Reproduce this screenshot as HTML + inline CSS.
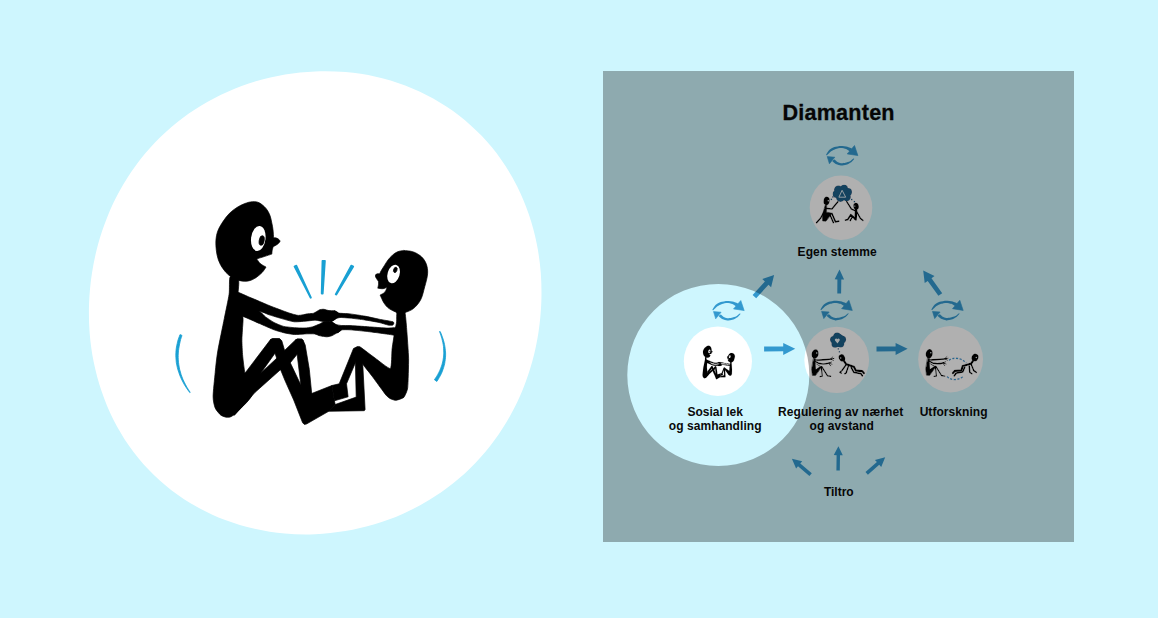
<!DOCTYPE html>
<html lang="no"><head><meta charset="utf-8"><title>Diamanten</title>
<style>
html,body{margin:0;padding:0;background:#cef6fe;overflow:hidden}
svg{display:block}
</style></head><body>
<svg width="1158" height="618" viewBox="0 0 1158 618">
<rect width="1158" height="618" fill="#cef6fe"/>
<defs><g id="fig" fill="#000" stroke="#000" stroke-width="0.7" stroke-linejoin="round"><path d="M273.6 237.8 C274.2 237.8 276 237.7 277.1 238.3 C278.2 238.8 279.9 240.1 280 241.1 C280.1 242.1 278.6 243.2 277.5 244.2 C276.3 245.1 273.9 246.3 273.2 246.7 C273 247.3 272.5 249 272.2 250.2 C272 251.4 271.9 253.4 271.8 254.1 C270.6 254.5 266.6 255.8 264.1 256.6 C261.6 257.4 257.9 258.5 256.7 258.9 C257.3 259.7 259 262.4 260.6 263.8 C262.1 265.1 265.1 266.5 266 267.1 C265.4 268 263.8 270.8 262.1 272.5 C260.5 274.2 258.2 276.1 256.3 277.4 C254.4 278.7 252.8 279.6 250.9 280.3 C248.9 280.9 247 281.4 244.7 281.3 C242.3 281.2 239.5 280.7 236.9 279.7 C234.3 278.7 231.5 277.3 229.1 275.4 C226.8 273.6 224.7 271.2 222.9 268.6 C221.1 266.1 219.5 263 218.4 259.9 C217.3 256.8 216.7 253.4 216.3 250.2 C215.9 247 215.7 243.7 215.9 240.5 C216.2 237.2 216.6 234 217.9 230.8 C219.1 227.5 221.4 224 223.3 221.1 C225.2 218.2 227.2 215.6 229.5 213.3 C231.8 211 234.4 209.1 236.9 207.5 C239.4 205.9 242.1 204.6 244.7 203.6 C247.2 202.6 250 201.8 252.4 201.7 C254.9 201.5 257 201.7 259.2 202.8 C261.5 203.9 264.2 206.4 266 208.4 C267.8 210.5 268.9 212.8 269.9 215.2 C270.9 217.7 271.3 220.6 271.8 223 C272.4 225.4 272.7 227.3 273 229.8 C273.3 232.3 273.5 236.4 273.6 237.8Z"/>
<ellipse cx="258.3" cy="238.5" rx="7.2" ry="12.6" fill="#fff" stroke="none" transform="rotate(7 258.3 238.5)"/>
<ellipse cx="261.7" cy="240.5" rx="2.5" ry="4.9" transform="rotate(10 261.7 240.5)"/>
<path d="M230.1 277 C229 278.7 229.8 289.5 229.1 294.3 C228.4 299.1 225.6 311.9 224.3 318.5 C223 325.1 218.9 344.6 217.8 350.9 C216.7 357.2 215.7 367.1 215.2 372.4 C214.7 377.7 213.1 392.4 213.1 396.6 C213.1 400.8 214.3 405.8 215.2 408 C216.1 410.2 219.5 414.1 220.9 415.2 C222.3 416.3 225.9 417.3 227.4 417.3 C228.9 417.3 230.9 417.4 233.8 414.8 C236.7 412.2 250.7 399.8 252 395 C253.3 390.2 246.3 378.5 245.2 374 C244.1 369.5 243.1 360.2 242.7 356.2 C242.3 352.2 241.9 343.1 241.9 340 C241.9 336.9 242.3 332.7 242.4 330 C242.5 327.3 243.4 319.8 242.9 316.9 C242.4 314 239.1 307.6 238.5 305 C237.9 302.4 238 297.2 238 294.3 C238 291.4 239.4 282 238.5 280 C237.6 278 231.2 275.3 230.1 277Z"/>
<path d="M233 291.5 C234.7 290 246.1 295.9 249.7 297.3 C253.3 298.7 265.2 303.9 269.1 305.5 C273 307.1 285.6 311.8 288.5 312.8 C291.4 313.8 296.4 315.3 298.3 315.4 C300.2 315.5 306.5 314 308 313.8 C309.5 313.6 312.5 313.6 313.7 313.2 C314.9 312.8 318.6 310.2 319.6 309.8 C320.6 309.4 323 309.2 323.9 309.3 C324.8 309.4 328 310.5 329 310.6 C330 310.8 333.2 310.6 334.1 310.8 C335.1 311.1 338.4 312.3 338.5 313.1 C338.6 313.9 336.4 318.1 335.6 318.9 C334.8 319.7 332.1 321.2 330.9 321.5 C329.7 321.8 324.7 321.6 323.2 321.5 C321.7 321.4 317.4 320.3 315.9 320.2 C314.4 320.1 310.1 320.7 308 320.9 C305.9 321.1 297 322 294.4 321.8 C291.8 321.6 284.2 319.3 281.7 318.6 C279.2 317.9 271.3 315.5 269.1 314.8 C266.9 314.1 262 311.3 259.4 311.4 C256.8 311.5 245.6 315.9 243 316 C240.4 316.1 234 314.4 233 312 C232 309.6 231.3 293 233 291.5Z"/>
<path d="M234 303 C236.5 302.9 256.3 310.2 259.4 311.6 C262.5 313 263.7 315.6 265.2 316.7 C266.7 317.8 272.1 321.5 274 322.5 C275.9 323.5 281.7 325.9 283.7 326.4 C285.7 326.9 292.3 327.5 294.4 327.7 C296.5 327.9 303.2 328.1 305 328 C306.8 327.9 310.8 327.3 312.3 326.9 C313.8 326.5 318.4 324.5 319.6 324 C320.8 323.5 323.2 321.7 324.3 321.5 C325.4 321.3 329.8 321.4 330.9 321.7 C332 322 334.6 323.6 335.6 324.4 C336.7 325.2 341.3 329.1 341.4 329.9 C341.5 330.7 337.9 332.2 337 332.8 C336.1 333.4 332.9 335.3 331.9 335.7 C330.9 336.1 328 336.8 326.8 336.8 C325.6 336.8 320.8 336 319.6 335.7 C318.4 335.4 316 334.1 314.5 333.9 C313 333.7 307 333.8 305 333.9 C303 334 296.5 334.6 294.4 334.5 C292.3 334.4 285.7 333.2 283.7 332.7 C281.7 332.2 276.4 330.7 274 329.8 C271.6 328.9 262.4 324.8 259.4 323.5 C256.4 322.2 246.4 317.8 243.9 316.7 C241.4 315.6 235 314.4 234 313 C233 311.6 231.5 303.1 234 303Z"/>
<path d="M244 374.5 L270.5 339.6 L272.5 338.7 L279.5 338.8 L281 340.2 L275 353.2 L260.9 373 L252 392Z"/>
<path d="M270.5 339.6 L272.5 338.7 L279.5 338.8 L281.8 340.8 L284.6 350.4 L290.3 362.8 L301.6 386.6 L311.7 393.5 L331.9 385.5 L334.4 400.8 L335.2 404.5 L328.7 411.3 L306.5 424 L304.3 424.4 L302.6 422.7 L293.7 400 L285 380.6 L280.1 368.5 L276.7 358.3 L275 353.2Z"/>
<path d="M260.9 373 L276.7 358.3 L284.6 350.4 L295.5 339.9 L297.5 339 L302 339.2 L303.3 340.8 L297.1 354.3 L290.3 362.8 L280.1 370 L254.9 392.5 L234.5 415.2 L222 412 L225 395Z"/>
<path d="M295.5 339.9 L297.5 339 L302 339.2 L303.3 340.8 L305.2 345 L309.3 369.3 L311.7 393.5 L314 405 L303 400 L300.8 384.4 L297.1 354.3Z"/>
<path d="M403.7 250.4 C405.3 250.7 410.4 250.8 413.4 251.9 C416.4 253 419.4 254.8 421.5 256.8 C423.6 258.8 425.3 261.3 426.3 264.1 C427.3 266.9 427.9 270 427.6 273.8 C427.3 277.6 425.9 282.5 424.7 286.8 C423.5 291.1 422.6 296.1 420.7 299.7 C418.8 303.3 416.1 306.4 413.4 308.6 C410.7 310.8 406 312.1 404.5 312.8 C403.3 312.8 398.4 312.8 397.2 312.8 C395.9 312.1 391.3 310.2 389.1 308.6 C386.9 307 385.5 305.3 384 303 C382.5 300.7 380.8 296.3 380.1 295 C380.7 294.7 382.6 293.9 383.5 293.2 C384.4 292.5 385 292 385.6 291 C386.2 290 386.9 287.9 387.1 287.3 C386.4 287.5 384.4 288.6 382.9 288.7 C381.3 288.8 378.6 288.3 377.8 288.2 C377.9 287.6 378.4 285.6 378.5 284.4 C378.6 283.2 378.4 281.7 378.4 281.2 C378.1 280.8 377 279.5 376.5 278.6 C376 277.7 375.4 276.8 375.4 276 C375.4 275.2 375.8 274.4 376.5 274 C377.2 273.6 379.2 273.8 379.7 273.7 C380 273.1 380.8 271.3 381.6 270 C382.4 268.7 383.2 267.4 384.3 265.7 C385.4 264 386.6 261.8 388 260 C389.4 258.2 390.8 256.6 392.4 255.2 C394 253.8 395.6 252.6 397.5 251.8 C399.4 251 402.7 250.6 403.7 250.4Z"/>
<ellipse cx="393.6" cy="274" rx="6.0" ry="9.5" fill="#fff" stroke="none" transform="rotate(17 393.6 274)"/>
<ellipse cx="395.3" cy="269.9" rx="1.7" ry="2.8" transform="rotate(20 395.3 269.9)"/>
<path d="M397.2 311 C396.5 311.9 396.8 320.4 396.6 322 C396.4 323.6 395.4 327.8 395 330 C394.6 332.2 392.5 345.6 392.1 348.8 C391.7 352 391.8 367.7 390.4 368.5 C389 369.3 377.4 359.7 375 358 C372.6 356.3 362.5 348.6 361.1 347.6 C359.8 346.6 359.2 346.4 358.8 346.4 C358.4 346.4 356.9 347.3 356.6 347.6 C356.3 347.9 355.1 348.6 355.6 350 C356.1 351.4 361.6 362.2 363 364.4 C364.4 366.6 370.1 373.4 372 376 C373.9 378.6 384.7 393.5 386.3 395.4 C387.9 397.3 390.2 398.6 391 399 C391.8 399.4 394.9 400.4 396 400.3 C397.1 400.2 402.8 398.4 403.8 397.4 C404.8 396.3 407.3 390.9 407.7 387.7 C408.1 384.5 408.7 363.4 408.6 358.5 C408.5 353.6 407 333.4 406.7 329.4 C406.4 325.4 405.4 312.5 404.6 311 C403.8 309.5 397.9 310.1 397.2 311Z"/>
<path d="M330.9 321.5 C330.8 320.7 333.3 311.6 334.1 310.8 C334.9 310 336.9 312.8 338.5 313.1 C340.1 313.4 347.4 313.6 350 313.9 C352.6 314.2 361.7 315.6 364.6 316.1 C367.5 316.6 376.3 318.6 379.1 319.2 C381.9 319.8 390.7 321.2 392.2 321.6 C393.7 322 393.8 322.7 393.9 323 C394 323.3 393.3 324.7 393 324.9 C392.7 325.1 391.5 325.2 391 325.2 C390.5 325.2 389.1 325.3 387.9 325 C386.7 324.7 381.4 323 379.1 322.5 C376.8 322 367.5 320.3 364.6 319.9 C361.7 319.5 352.5 318.3 350 318.1 C347.5 317.9 341.4 317.4 340 317.5 C338.6 317.6 336.5 318.5 335.6 318.9 C334.7 319.3 331 322.3 330.9 321.5Z"/>
<path d="M330.9 321.7 C330.8 320.9 334.6 324 335.6 324.4 C336.7 324.8 340 325.4 341.4 325.5 C342.8 325.6 347.7 325.5 350 325.6 C352.3 325.7 361.7 326.3 364.6 326.5 C367.5 326.7 376.8 327.4 379.1 327.6 C381.4 327.8 386.1 328.1 387.9 328.1 C389.7 328.1 396.1 327.2 397 328 C397.9 328.8 397.6 334.9 397.2 335.6 C396.8 336.3 394.8 335.3 393 335 C391.2 334.7 381.9 333.4 379.1 333 C376.3 332.6 367.5 331.5 364.6 331.2 C361.7 330.9 352.3 329.9 350 329.8 C347.7 329.7 342.7 329.6 341.4 329.9 C340.1 330.2 338.1 333.6 337 332.8 C335.9 332 331 322.5 330.9 321.7Z"/>
<path d="M353.5 348.5 L357.5 346.5 L358 356 L355.4 362.8 L346.5 383.8 L348.1 396.8 L334.4 400.8 L331.9 385.5 L339.2 383.8Z"/>
<path d="M355.6 350 L362.2 352 L362.7 362.8 L365.1 409.5 L364.3 410.7 L328.7 411.3 L335.2 404.5 L356.2 397.1 L355.4 362.8Z"/></g><g id="blue" fill="#19a0d3"><path d="M294.4 266.5 L310.6 297.9 L311 297.7 L296.4 265.5Z" stroke-width="1.6" stroke-linejoin="round" stroke="#19a0d3"/>
<path d="M322.4 260.7 L321.6 293.6 L322.8 293.6 L325 260.9Z" stroke-width="1.6" stroke-linejoin="round" stroke="#19a0d3"/>
<path d="M351.3 265.5 L335.6 294.3 L336.4 294.7 L353.3 266.5Z" stroke-width="1.6" stroke-linejoin="round" stroke="#19a0d3"/>
<path d="M180 334.6 L179.2 336.8 L178.4 339 L177.7 341.2 L177.2 343.5 L176.7 345.8 L176.3 348.1 L176 350.5 L175.9 352.8 L175.8 355.2 L175.9 357.7 L176.1 360.1 L176.3 362.6 L176.8 365 L177.3 367.5 L178 370 L178.8 372.5 L179.7 375 L180.7 377.5 L181.9 380 L183.2 382.6 L184.6 385.1 L186.2 387.6 L187.9 390.1 L189.8 392.6 L190.2 392.4 L188.5 389.8 L186.9 387.2 L185.5 384.6 L184.2 382.1 L183 379.5 L182 377 L181.1 374.5 L180.4 372 L179.7 369.6 L179.2 367.1 L178.8 364.7 L178.5 362.3 L178.3 359.9 L178.2 357.6 L178.2 355.3 L178.3 353 L178.5 350.7 L178.8 348.5 L179.2 346.2 L179.6 344 L180.1 341.8 L180.6 339.6 L181.3 337.5 L182 335.4Z" stroke="#19a0d3" stroke-width="0.8" stroke-linejoin="round"/>
<path d="M439.5 331.6 L440.4 333.8 L441.1 336 L441.8 338.2 L442.3 340.3 L442.8 342.5 L443.2 344.6 L443.5 346.7 L443.6 348.8 L443.7 350.9 L443.8 353 L443.7 355 L443.5 357.1 L443.2 359.1 L442.9 361 L442.4 363 L441.9 364.9 L441.2 366.9 L440.5 368.8 L439.7 370.7 L438.8 372.5 L437.8 374.4 L436.8 376.2 L435.6 378 L434.4 379.7 L436.8 381.5 L438.1 379.6 L439.2 377.6 L440.3 375.7 L441.3 373.7 L442.2 371.7 L442.9 369.7 L443.6 367.6 L444.2 365.6 L444.7 363.5 L445 361.4 L445.3 359.3 L445.5 357.2 L445.6 355.1 L445.6 353 L445.4 350.8 L445.2 348.7 L444.9 346.5 L444.5 344.4 L444 342.2 L443.4 340.1 L442.7 337.9 L441.9 335.7 L441.1 333.5 L440.1 331.4Z" stroke="#19a0d3" stroke-width="0.8" stroke-linejoin="round"/></g></defs>
<path d="M541.3 302.8 C541.7 293 541.5 283 540.8 273.1 C540 263.2 538.7 253.3 536.7 243.5 C534.7 233.7 532.1 223.8 528.8 214.3 C525.6 204.8 521.7 195.3 517.1 186.2 C512.5 177.2 507.3 168.3 501.4 159.9 C495.5 151.6 489 143.5 481.9 136.1 C474.8 128.7 467.1 121.7 459 115.4 C450.8 109.2 442.1 103.5 433.2 98.5 C424.2 93.5 414.8 89.2 405.2 85.5 C395.6 81.9 385.7 79 375.8 76.8 C365.8 74.5 355.7 73 345.6 72.1 C335.5 71.2 325.3 71 315.2 71.4 C305.1 71.8 295 72.9 285.1 74.5 C275.3 76.2 265.4 78.5 255.9 81.3 C246.3 84.2 236.8 87.7 227.8 91.7 C218.7 95.7 209.8 100.3 201.3 105.5 C192.8 110.6 184.6 116.4 176.9 122.5 C169.2 128.7 161.8 135.5 155 142.6 C148.2 149.7 141.8 157.3 136 165.3 C130.1 173.2 124.8 181.6 120.1 190.1 C115.3 198.7 111.1 207.6 107.4 216.7 C103.7 225.8 100.6 235.2 98 244.6 C95.4 254.1 93.4 263.7 91.9 273.4 C90.4 283.1 89.5 293 89.1 302.8 C88.7 312.6 88.9 322.6 89.6 332.5 C90.4 342.4 91.7 352.3 93.7 362.1 C95.7 371.9 98.3 381.8 101.6 391.3 C104.8 400.8 108.7 410.3 113.3 419.4 C117.9 428.4 123.1 437.3 129 445.7 C134.9 454 141.4 462.1 148.5 469.5 C155.6 476.9 163.3 483.9 171.4 490.2 C179.6 496.4 188.3 502.1 197.2 507.1 C206.2 512.1 215.6 516.4 225.2 520.1 C234.8 523.7 244.7 526.6 254.6 528.8 C264.6 531.1 274.7 532.6 284.8 533.5 C294.9 534.4 305.1 534.6 315.2 534.2 C325.3 533.8 335.4 532.7 345.3 531.1 C355.1 529.4 365 527.1 374.5 524.3 C384.1 521.4 393.6 517.9 402.6 513.9 C411.7 509.9 420.6 505.3 429.1 500.1 C437.6 495 445.8 489.2 453.5 483.1 C461.2 476.9 468.6 470.1 475.4 463 C482.2 455.9 488.6 448.3 494.4 440.3 C500.3 432.4 505.6 424 510.3 415.5 C515.1 406.9 519.3 398 523 388.9 C526.7 379.8 529.8 370.4 532.4 361 C535 351.5 537 341.9 538.5 332.2 C540 322.5 540.9 312.6 541.3 302.8Z" fill="#fff"/>
<use href="#fig"/><use href="#blue"/>
<ellipse cx="841" cy="207.7" rx="31.3" ry="32.2" fill="#fff"/>
<ellipse cx="717.9" cy="361.2" rx="34.1" ry="34.8" fill="#fff"/>
<ellipse cx="836.7" cy="359.8" rx="32.4" ry="33.1" fill="#fff"/>
<ellipse cx="950.6" cy="359.2" rx="32.4" ry="33.2" fill="#fff"/>
<g transform="translate(0 0)" fill="#3399cf"><path d="M826.1 154.7 C826.3 154.2 828.4 150.7 829.2 149.9 C830 149.1 833.2 147.4 834.4 147 C835.6 146.6 839.6 145.9 840.9 145.9 C842.2 145.9 846.3 146.4 847.4 146.7 C848.5 147 851.9 148.4 852.2 148.8 C852.5 149.2 850.6 151.2 850 151.2 C849.4 151.2 847 149.3 846.1 149 C845.2 148.7 841.9 148.1 840.9 148.1 C839.9 148.1 836.7 148.7 835.7 149 C834.7 149.3 832.1 150.7 831.2 151.3 C830.4 151.9 827.7 154.7 827.2 155 C826.7 155.3 825.9 155.2 826.1 154.7Z"/><path d="M854.5 145.5 L857.9 155.6 L847.2 153.9Z" stroke="#3399cf" stroke-width="0.6" stroke-linejoin="round"/><path d="M854.2 159 C854 159.4 852 161.6 851.2 162.2 C850.4 162.8 847.1 164.5 846.1 164.8 C845.1 165.1 841.9 165.7 840.9 165.6 C839.9 165.5 837.2 164.7 836.4 164.3 C835.5 163.9 832.6 161.8 832.4 161.3 C832.2 160.8 834.1 159.4 834.6 159.5 C835.1 159.6 836.8 161.6 837.4 162 C838 162.4 840.1 163.2 840.9 163.3 C841.7 163.4 844.5 163 845.4 162.8 C846.3 162.6 849.2 161.7 850 161.3 C850.8 160.9 853 158.8 853.4 158.6 C853.8 158.4 854.4 158.6 854.2 159Z"/><path d="M827.2 156.6 L834.8 157.2 L829.4 163.8Z" stroke="#3399cf" stroke-width="0.6" stroke-linejoin="round"/></g>
<g transform="translate(-113.7 155)" fill="#3399cf"><path d="M826.1 154.7 C826.3 154.2 828.4 150.7 829.2 149.9 C830 149.1 833.2 147.4 834.4 147 C835.6 146.6 839.6 145.9 840.9 145.9 C842.2 145.9 846.3 146.4 847.4 146.7 C848.5 147 851.9 148.4 852.2 148.8 C852.5 149.2 850.6 151.2 850 151.2 C849.4 151.2 847 149.3 846.1 149 C845.2 148.7 841.9 148.1 840.9 148.1 C839.9 148.1 836.7 148.7 835.7 149 C834.7 149.3 832.1 150.7 831.2 151.3 C830.4 151.9 827.7 154.7 827.2 155 C826.7 155.3 825.9 155.2 826.1 154.7Z"/><path d="M854.5 145.5 L857.9 155.6 L847.2 153.9Z" stroke="#3399cf" stroke-width="0.6" stroke-linejoin="round"/><path d="M854.2 159 C854 159.4 852 161.6 851.2 162.2 C850.4 162.8 847.1 164.5 846.1 164.8 C845.1 165.1 841.9 165.7 840.9 165.6 C839.9 165.5 837.2 164.7 836.4 164.3 C835.5 163.9 832.6 161.8 832.4 161.3 C832.2 160.8 834.1 159.4 834.6 159.5 C835.1 159.6 836.8 161.6 837.4 162 C838 162.4 840.1 163.2 840.9 163.3 C841.7 163.4 844.5 163 845.4 162.8 C846.3 162.6 849.2 161.7 850 161.3 C850.8 160.9 853 158.8 853.4 158.6 C853.8 158.4 854.4 158.6 854.2 159Z"/><path d="M827.2 156.6 L834.8 157.2 L829.4 163.8Z" stroke="#3399cf" stroke-width="0.6" stroke-linejoin="round"/></g>
<g transform="translate(-5.6 154.8)" fill="#3399cf"><path d="M826.1 154.7 C826.3 154.2 828.4 150.7 829.2 149.9 C830 149.1 833.2 147.4 834.4 147 C835.6 146.6 839.6 145.9 840.9 145.9 C842.2 145.9 846.3 146.4 847.4 146.7 C848.5 147 851.9 148.4 852.2 148.8 C852.5 149.2 850.6 151.2 850 151.2 C849.4 151.2 847 149.3 846.1 149 C845.2 148.7 841.9 148.1 840.9 148.1 C839.9 148.1 836.7 148.7 835.7 149 C834.7 149.3 832.1 150.7 831.2 151.3 C830.4 151.9 827.7 154.7 827.2 155 C826.7 155.3 825.9 155.2 826.1 154.7Z"/><path d="M854.5 145.5 L857.9 155.6 L847.2 153.9Z" stroke="#3399cf" stroke-width="0.6" stroke-linejoin="round"/><path d="M854.2 159 C854 159.4 852 161.6 851.2 162.2 C850.4 162.8 847.1 164.5 846.1 164.8 C845.1 165.1 841.9 165.7 840.9 165.6 C839.9 165.5 837.2 164.7 836.4 164.3 C835.5 163.9 832.6 161.8 832.4 161.3 C832.2 160.8 834.1 159.4 834.6 159.5 C835.1 159.6 836.8 161.6 837.4 162 C838 162.4 840.1 163.2 840.9 163.3 C841.7 163.4 844.5 163 845.4 162.8 C846.3 162.6 849.2 161.7 850 161.3 C850.8 160.9 853 158.8 853.4 158.6 C853.8 158.4 854.4 158.6 854.2 159Z"/><path d="M827.2 156.6 L834.8 157.2 L829.4 163.8Z" stroke="#3399cf" stroke-width="0.6" stroke-linejoin="round"/></g>
<g transform="translate(105.3 154.8)" fill="#3399cf"><path d="M826.1 154.7 C826.3 154.2 828.4 150.7 829.2 149.9 C830 149.1 833.2 147.4 834.4 147 C835.6 146.6 839.6 145.9 840.9 145.9 C842.2 145.9 846.3 146.4 847.4 146.7 C848.5 147 851.9 148.4 852.2 148.8 C852.5 149.2 850.6 151.2 850 151.2 C849.4 151.2 847 149.3 846.1 149 C845.2 148.7 841.9 148.1 840.9 148.1 C839.9 148.1 836.7 148.7 835.7 149 C834.7 149.3 832.1 150.7 831.2 151.3 C830.4 151.9 827.7 154.7 827.2 155 C826.7 155.3 825.9 155.2 826.1 154.7Z"/><path d="M854.5 145.5 L857.9 155.6 L847.2 153.9Z" stroke="#3399cf" stroke-width="0.6" stroke-linejoin="round"/><path d="M854.2 159 C854 159.4 852 161.6 851.2 162.2 C850.4 162.8 847.1 164.5 846.1 164.8 C845.1 165.1 841.9 165.7 840.9 165.6 C839.9 165.5 837.2 164.7 836.4 164.3 C835.5 163.9 832.6 161.8 832.4 161.3 C832.2 160.8 834.1 159.4 834.6 159.5 C835.1 159.6 836.8 161.6 837.4 162 C838 162.4 840.1 163.2 840.9 163.3 C841.7 163.4 844.5 163 845.4 162.8 C846.3 162.6 849.2 161.7 850 161.3 C850.8 160.9 853 158.8 853.4 158.6 C853.8 158.4 854.4 158.6 854.2 159Z"/><path d="M827.2 156.6 L834.8 157.2 L829.4 163.8Z" stroke="#3399cf" stroke-width="0.6" stroke-linejoin="round"/></g>
<path d="M756.2 298.2 L768.5 284.7 L771.1 287.2 L774.1 275 L762.3 279.1 L764.9 281.5 L752.6 295Z" fill="#3399cf"/>
<path d="M764.1 351.4 L783.2 351.3 L783.2 354.9 L795.2 348.8 L783.2 342.9 L783.2 346.5 L764.1 346.6Z" fill="#3399cf"/>
<path d="M876.5 351.4 L895.6 351.3 L895.6 354.9 L907.6 348.8 L895.6 342.9 L895.6 346.5 L876.5 346.6Z" fill="#3399cf"/>
<path d="M841.1 293.4 L841.3 279.4 L844.1 279.5 L839.5 269.6 L834.7 279.3 L837.4 279.4 L837.3 293.4Z" fill="#3399cf"/>
<path d="M942.2 293.2 L931.5 278.2 L934.5 276.1 L923.2 270.6 L924.7 283 L927.7 280.9 L938.4 295.8Z" fill="#3399cf"/>
<path d="M839.8 470.4 L840 455.2 L842.8 455.3 L838.4 446.2 L833.8 455.1 L836.6 455.2 L836.4 470.4Z" fill="#3399cf"/>
<path d="M811.8 473.2 L800.3 463.5 L802.2 461.2 L791.9 458.7 L796.1 468.5 L798 466.2 L809.4 476Z" fill="#3399cf"/>
<path d="M867.9 474.8 L879.2 464.8 L881.2 467 L885.2 457.2 L874.9 459.9 L876.9 462.1 L865.5 472Z" fill="#3399cf"/>
<defs><g id="sit" fill="none" stroke="#000" stroke-linecap="round" stroke-linejoin="round"><ellipse cx="815.1" cy="354" rx="3.5" ry="4.8" fill="#000" stroke="none" transform="rotate(12 815.1 354)"/><circle cx="816.7" cy="353" r="0.8" fill="#dfe7ea" stroke="none"/><path d="M813.6 358.6 L815.4 358.8 L815.2 363.5 L820.4 366.3 L822.0 366.6 L815.5 375.6 L812.3 375.4 L811.6 369Z" fill="#000" stroke-width="0.8"/><path d="M815.4 363.6 L820.0 366.6 L815.8 369.4Z" fill="#fff" stroke="none"/><path d="M821.3 366.6 L822.3 376.2 L820.0 376.6" stroke-width="1.3"/><path d="M821.9 366.8 L827.4 375.7 L830.6 376.3" stroke-width="1.4"/><path d="M816.5 360.3 C820 359.9 826 359.7 830.5 359.2 C826 364.2 820 364.2 816.5 360.3Z" fill="#fff" stroke="none"/><path d="M815.0 360.1 C820 359.8 826 359.6 831.5 358.9" stroke-width="1.5"/><path d="M815.6 361.6 C819 364.2 825 364.4 829.6 362.9" stroke-width="1.5"/><path d="M830.5 358.9 L832.8 356.9 M831 359 L834.0 358.4 M831 359.2 L833.4 360.4 M828.8 363 L831.6 362.0 M829 363.2 L832.0 364.2 M828.8 363.4 L830.6 365.8" stroke-width="1"/></g><filter id="halo" x="-20%" y="-20%" width="140%" height="140%"><feMorphology in="SourceAlpha" operator="dilate" radius="0.7" result="d"/><feGaussianBlur in="d" stdDeviation="0.35" result="b"/><feFlood flood-color="#fff" flood-opacity="0.9"/><feComposite in2="b" operator="in" result="h"/><feMerge><feMergeNode in="h"/><feMergeNode in="SourceGraphic"/></feMerge></filter></defs>
<g filter="url(#halo)">
<use href="#sit"/>
<use href="#sit" transform="translate(114.1 -0.2)"/>
<ellipse cx="841.9" cy="357.9" rx="3.1" ry="3.8" transform="rotate(-25 841.9 357.9)"/>
<circle cx="840.7" cy="357.9" r="0.75" fill="#dfe7ea"/>
<path d="M843.8 360.6 L846.1 364.2 L853.9 366.8 L855.8 370.5 L862.3 371.1 L863.9 373.1" fill="none" stroke="#000" stroke-width="2.3" stroke-linecap="round" stroke-linejoin="round"/>
<path d="M851.3 367.6 L853.9 372.4 L861 373.7 L862.3 375.7" fill="none" stroke="#000" stroke-width="1.8" stroke-linecap="round" stroke-linejoin="round"/>
<path d="M846.1 364.7 L842 370.5 L839.9 372.3 L841.3 373.1" fill="none" stroke="#000" stroke-width="1.6" stroke-linecap="round" stroke-linejoin="round"/>
<path d="M848.3 366.4 L846.1 373.1 L844.8 373.7" fill="none" stroke="#000" stroke-width="1.6" stroke-linecap="round" stroke-linejoin="round"/>
<g fill="#1b6089"><circle cx="837.1" cy="336.3" r="3.7"/><circle cx="833.7" cy="339.6" r="3.7"/><circle cx="842.4" cy="339.5" r="3.7"/><circle cx="835.1" cy="344.1" r="3.7"/><circle cx="840.6" cy="343.8" r="3.7"/><circle cx="838" cy="340.3" r="6.7"/></g>
<path d="M837.5 343.4 L835.0 340.6 A1.35 1.35 0 0 1 837.3 339.2 A1.35 1.35 0 0 1 839.6 340.6Z" fill="#eef4f7"/>
<rect x="837.6" y="348.2" width="1.4" height="1.4" fill="#1b6089"/><rect x="838.7" y="351.1" width="1.4" height="1.4" fill="#1b6089"/>
<path d="M949.0 360.4 C952 357.6 960 356.6 966.2 362.9 M947.0 376.6 C951 380.6 958 380.6 963.0 376.6" fill="none" stroke="#3399cf" stroke-width="1.4" stroke-dasharray="2.3 1.4"/>
<ellipse cx="975" cy="357.5" rx="3.4" ry="3.9" transform="rotate(25 975 357.5)"/>
<circle cx="976.3" cy="357.5" r="0.75" fill="#dfe7ea"/>
<path d="M973.2 360.6 L971.1 363.6 L962.7 366 L961.4 370.5 L955 370.8 L953 373.1" fill="none" stroke="#000" stroke-width="2.3" stroke-linecap="round" stroke-linejoin="round"/>
<path d="M964.7 367.2 L962.7 371.8 L956.2 373.1 L954.3 375.7" fill="none" stroke="#000" stroke-width="1.8" stroke-linecap="round" stroke-linejoin="round"/>
<path d="M971.1 364 L973.7 370.5 L976.3 372.4" fill="none" stroke="#000" stroke-width="1.6" stroke-linecap="round" stroke-linejoin="round"/>
<path d="M969.2 366 L969.8 372.4 L971.8 373.7" fill="none" stroke="#000" stroke-width="1.6" stroke-linecap="round" stroke-linejoin="round"/>
<g fill="#1b6089"><circle cx="838.4" cy="189.8" r="4.4"/><circle cx="844.1" cy="188.6" r="3.9"/><circle cx="848.1" cy="191.9" r="3.9"/><circle cx="846.7" cy="197" r="4.2"/><circle cx="840.5" cy="197.4" r="4.5"/><circle cx="836.6" cy="194" r="3.9"/><circle cx="842.3" cy="193.5" r="6.5"/></g>
<path d="M842.1 190.3 L838.9 197.2 L845.7 197.2Z" fill="none" stroke="#eef3f5" stroke-width="0.9" stroke-linejoin="round"/>
<g fill="#1b6089"><rect x="832.1" y="196.2" width="1.5" height="1.5"/><rect x="830.6" y="198.6" width="1.5" height="1.5"/><rect x="851" y="198.8" width="1.5" height="1.5"/><rect x="853.6" y="200.9" width="1.5" height="1.5"/></g>
<ellipse cx="826.6" cy="200.9" rx="3.1" ry="4.3" transform="rotate(10 826.6 200.9)"/>
<circle cx="828.3" cy="200.8" r="0.75" fill="#dfe7ea"/>
<path d="M825.2 205 L826.8 205.2 L826.4 212 L831 213 L832 213.6 L826 221.2 L822.6 221 L822.4 215Z" stroke="#000" stroke-width="0.8" stroke-linejoin="round"/>
<path d="M826.2 208.3 L831.9 209 L835.8 204.3 L837.9 201.8" fill="none" stroke="#000" stroke-width="1.7" stroke-linecap="round" stroke-linejoin="round"/>
<path d="M824.8 210.5 L820.5 218.3 L816.6 222.6" fill="none" stroke="#000" stroke-width="1.6" stroke-linecap="round" stroke-linejoin="round"/>
<path d="M831.9 213.5 L835.5 221.9 L838.7 221.1" fill="none" stroke="#000" stroke-width="1.8" stroke-linecap="round" stroke-linejoin="round"/>
<path d="M829.8 214.4 L833.4 222.6" fill="none" stroke="#000" stroke-width="1.6" stroke-linecap="round" stroke-linejoin="round"/>
<ellipse cx="856.1" cy="206.2" rx="2.8" ry="3.4" transform="rotate(-10 856.1 206.2)"/>
<circle cx="854.8" cy="206.1" r="0.7" fill="#dfe7ea"/>
<path d="M856.1 209.5 L855.6 219" fill="none" stroke="#000" stroke-width="2.6" stroke-linecap="round" stroke-linejoin="round"/>
<path d="M854.7 210.5 L851.4 209 L848.8 204.9 L846.7 201.6" fill="none" stroke="#000" stroke-width="1.6" stroke-linecap="round" stroke-linejoin="round"/>
<path d="M856.8 211.9 L860.4 218.3 L862.9 220.4" fill="none" stroke="#000" stroke-width="1.6" stroke-linecap="round" stroke-linejoin="round"/>
<path d="M855.4 219 L850.8 214.7 L847.6 219.7 L845.5 220.1" fill="none" stroke="#000" stroke-width="1.8" stroke-linecap="round" stroke-linejoin="round"/>
<path d="M856 220 L852.6 216.4 L850.2 220.6" fill="none" stroke="#000" stroke-width="1.6" stroke-linecap="round" stroke-linejoin="round"/>
</g>
<g transform="translate(670.5 315.4) scale(0.1505)"><use href="#fig" stroke="#000" stroke-width="4" stroke-linejoin="round"/></g>
<text x="838.6" y="119.6" text-anchor="middle" style="font-family:'Liberation Sans',Arial,sans-serif;font-weight:700;font-size:21.6px" fill="#0a0a0a" letter-spacing="0.22" stroke="#0a0a0a" stroke-width="0.3">Diamanten</text>
<text x="837.2" y="256.1" text-anchor="middle" style="font-family:'Liberation Sans',Arial,sans-serif;font-weight:700;font-size:12px" fill="#0a0a0a" letter-spacing="0.12">Egen stemme</text>
<text x="715.2" y="416.3" text-anchor="middle" style="font-family:'Liberation Sans',Arial,sans-serif;font-weight:700;font-size:12px" fill="#0a0a0a" >Sosial lek</text>
<text x="715.2" y="430.1" text-anchor="middle" style="font-family:'Liberation Sans',Arial,sans-serif;font-weight:700;font-size:12px" fill="#0a0a0a" letter-spacing="0.05">og samhandling</text>
<text x="840.6" y="416.3" text-anchor="middle" style="font-family:'Liberation Sans',Arial,sans-serif;font-weight:700;font-size:12px" fill="#0a0a0a" letter-spacing="0.1">Regulering av nærhet</text>
<text x="841.7" y="430.1" text-anchor="middle" style="font-family:'Liberation Sans',Arial,sans-serif;font-weight:700;font-size:12px" fill="#0a0a0a" letter-spacing="0.1">og avstand</text>
<text x="953.6" y="416.3" text-anchor="middle" style="font-family:'Liberation Sans',Arial,sans-serif;font-weight:700;font-size:12px" fill="#0a0a0a" letter-spacing="0.05">Utforskning</text>
<text x="838.8" y="496.2" text-anchor="middle" style="font-family:'Liberation Sans',Arial,sans-serif;font-weight:700;font-size:12px" fill="#0a0a0a" >Tiltro</text>
<path fill-rule="evenodd" fill="#000" fill-opacity="0.31" d="M603 71H1074V542H603Z M809.3 374.9A91 91 0 1 0 627.3 374.9A91 91 0 1 0 809.3 374.9Z"/>
</svg>
</body></html>
